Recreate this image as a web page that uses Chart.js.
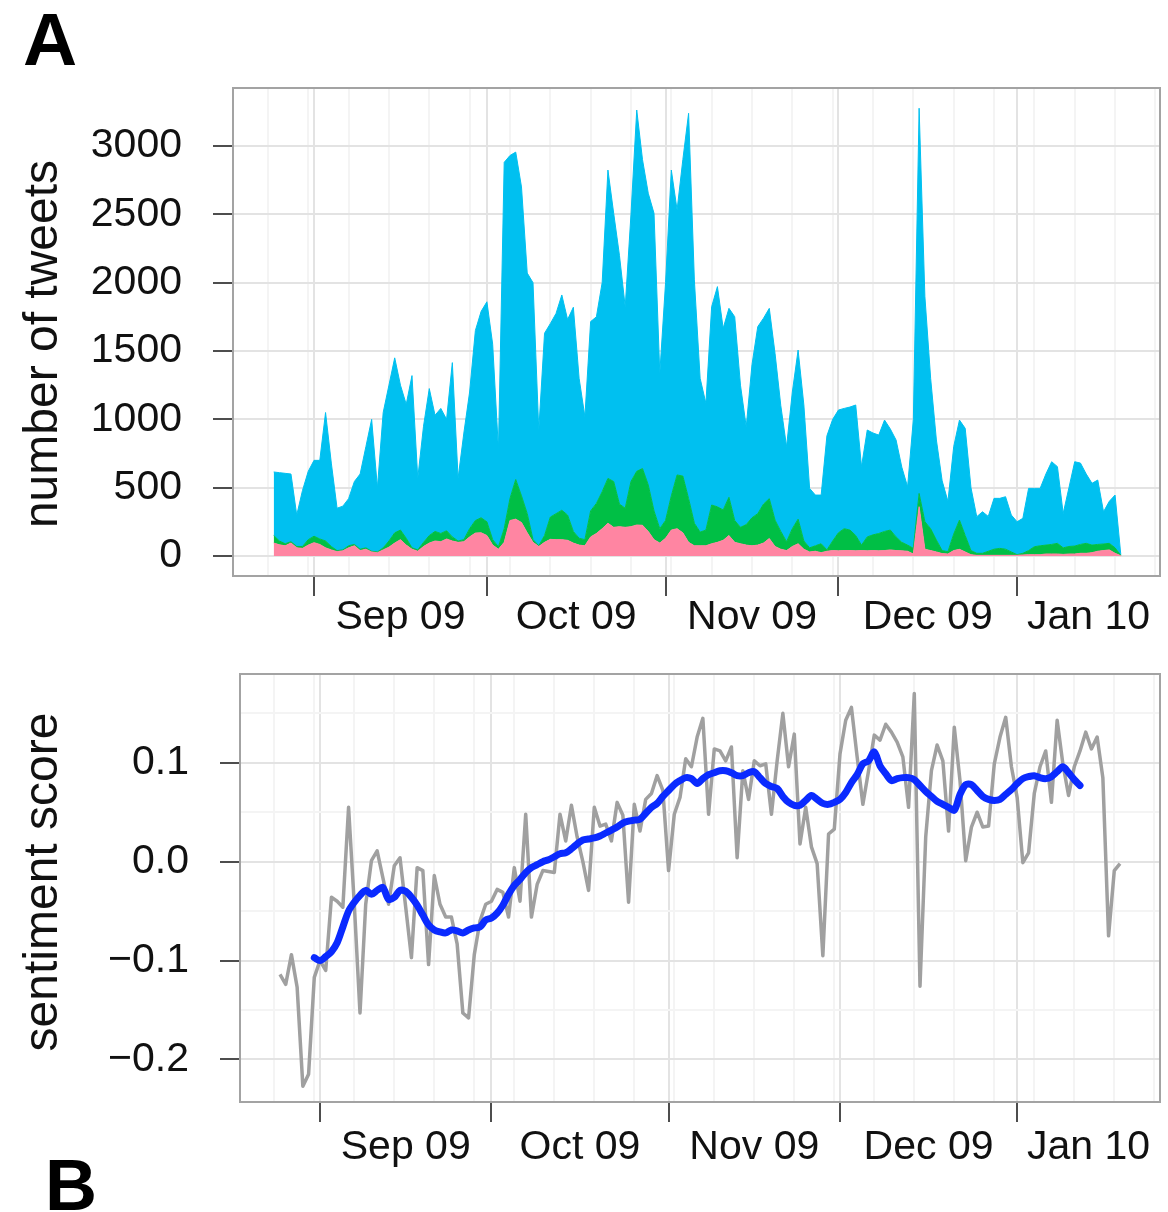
<!DOCTYPE html>
<html>
<head>
<meta charset="utf-8">
<script src="https://cdn.jsdelivr.net/npm/chart.js@4.4.1/dist/chart.umd.min.js"></script>
<style>
  html, body { margin: 0; padding: 0; background: #fff; }
  body { width: 1168px; height: 1212px; position: relative; overflow: hidden; font-family: 'Liberation Sans', Arial, sans-serif; }
  .panel { position: absolute; left: 0; width: 1168px; }
  #panelA { top: 0; height: 650px; }
  #panelB { top: 600px; height: 612px; }
  .tag { position: absolute; font-weight: bold; color: #000; }
</style>
</head>
<body>
<div class="panel" id="panelA"><canvas id="tweets"></canvas></div>
<div class="panel" id="panelB"><canvas id="sentiment"></canvas></div>
<div class="tag" style="left:23px; top:2px; font-size:75px; line-height:75px;">A</div>
<div class="tag" style="left:45px; top:1149px; font-size:72px; line-height:72px;">B</div>
<script>
const FONT = "'Liberation Sans', Arial, sans-serif";
const DAY = 86400000;
const ORIGIN = Date.UTC(2009, 8, 1);
function dayOf(s) {
    const [y, m, d] = s.split('-').map(Number);
    return (Date.UTC(y, m - 1, d) - ORIGIN) / DAY;
}

// daily tweet counts, one value per day from countStart (stacked: pink, green, blue)
const countStart = '2009-08-25';
const pinkTweets = [
    95, 82, 75, 95, 60, 56, 80, 98,
    85, 60, 45, 32, 38, 60, 75, 40, 50, 30,
    24, 45, 65, 95, 120, 80, 50, 35, 70, 95,
    110, 105, 125, 110, 100, 105, 140, 168, 170, 150,
    80, 50, 100, 260, 270, 245, 170, 100, 70, 100,
    122, 120, 120, 115, 95, 80, 75, 140, 165, 200,
    240, 210, 215, 210, 215, 227, 225, 180, 120, 95,
    130, 190, 200, 170, 100, 75, 75, 75, 90, 100,
    115, 150, 100, 90, 80, 75, 80, 95, 128, 70,
    50, 40, 70, 90, 50, 30, 35, 25, 35, 40,
    38, 40, 40, 38, 40, 38, 40, 38, 40, 45,
    40, 38, 35, 15, 361, 50, 40, 30, 18, 15,
    40, 49, 30, 10, 5, 5, 5, 5, 5, 5,
    5, 5, 8, 10, 10, 10, 15, 15, 15, 12,
    15, 15, 20, 20, 25, 35, 40, 45, 20, 2
];
const greenTweets = [
    55, 28, 15, 10, 10, 14, 40, 47,
    40, 50, 25, 8, 7, 15, 10, 10, 10, 5,
    6, 15, 45, 75, 70, 50, 10, 10, 30, 55,
    70, 60, 60, 30, 10, 15, 60, 92, 110, 100,
    40, 18, 100, 160, 290, 195, 140, 20, 5, 50,
    163, 190, 215, 185, 85, 50, 45, 190, 220, 270,
    328, 335, 165, 140, 330, 393, 415, 340, 210, 105,
    130, 250, 393, 415, 320, 165, 100, 115, 283, 260,
    222, 280, 160, 120, 150, 205, 230, 285, 292, 193,
    130, 65, 130, 180, 60, 30, 40, 65, 10, 70,
    132, 160, 150, 112, 40, 102, 115, 127, 140, 145,
    100, 62, 45, 41, 97, 201, 160, 87, 22, 17,
    120, 214, 120, 30, 15, 15, 30, 45, 51, 45,
    25, 5, 12, 30, 58, 65, 65, 70, 78, 48,
    55, 58, 65, 73, 55, 50, 48, 48, 40, 3
];
const blueTweets = [
    465, 500, 515, 495, 230, 410, 500, 555,
    575, 940, 610, 310, 320, 345, 460, 550, 740, 965,
    470, 990, 1140, 1280, 1060, 980, 1260, 525, 850, 1075,
    850, 915, 815, 1275, 460, 780, 1000, 1390, 1510, 1610,
    1430, 712, 2680, 2510, 2395, 2260, 1760, 1880, 845, 1480,
    1415, 1465, 1575, 1430, 1640, 1170, 900, 1385, 1365, 1530,
    2256, 1962, 1820, 1474, 1955, 2643, 2260, 2134, 2177, 1136,
    1740, 2384, 1939, 2315, 2819, 1780, 1125, 927, 1451, 1611,
    1329, 1382, 1491, 1040, 716, 1120, 1368, 1360, 1392, 1220,
    920, 695, 1000, 1237, 995, 435, 371, 356, 835, 890,
    898, 880, 900, 955, 574, 782, 745, 720, 815, 740,
    709, 550, 427, 944, 2818, 1649, 1100, 732, 510, 368,
    640, 732, 784, 460, 268, 304, 255, 372, 366, 384,
    270, 241, 256, 455, 427, 420, 520, 605, 561, 252,
    430, 617, 595, 507, 452, 471, 236, 307, 386, 5
];

// daily sentiment score and its smoothed trend
const sentimentStart = '2009-08-25';
const sentimentDaily = [
    -0.114, -0.124, -0.094, -0.127, -0.227, -0.215, -0.117, -0.100,
    -0.110, -0.036, -0.040, -0.046, 0.055, -0.043, -0.153, -0.043, 0.001, 0.011,
    -0.016, -0.043, -0.004, 0.004, -0.046, -0.097, -0.006, -0.009, -0.104, -0.014,
    -0.043, -0.056, -0.056, -0.083, -0.153, -0.158, -0.094, -0.060, -0.043, -0.040,
    -0.028, -0.031, -0.056, -0.006, -0.040, 0.048, -0.056, -0.023, -0.009, -0.010,
    -0.011, 0.048, 0.021, 0.057, 0.025, 0.000, -0.029, 0.055, 0.036, 0.038,
    0.021, 0.060, 0.047, -0.041, 0.058, 0.031, 0.063, 0.069, 0.087, 0.072,
    -0.009, 0.048, 0.065, 0.104, 0.096, 0.126, 0.145, 0.048, 0.114, 0.112,
    0.102, 0.116, 0.004, 0.092, 0.063, 0.102, 0.097, 0.099, 0.048, 0.102,
    0.150, 0.096, 0.129, 0.018, 0.055, 0.015, -0.002, -0.095, 0.028, 0.033,
    0.109, 0.143, 0.156, 0.106, 0.058, 0.092, 0.128, 0.123, 0.139, 0.131,
    0.121, 0.106, 0.055, 0.170, -0.126, 0.025, 0.092, 0.118, 0.102, 0.031,
    0.136, 0.082, 0.001, 0.035, 0.050, 0.035, 0.036, 0.099, 0.126, 0.146,
    0.096, 0.065, -0.001, 0.009, 0.069, 0.096, 0.112, 0.060, 0.143, 0.099,
    0.067, 0.096, 0.112, 0.131, 0.114, 0.126, 0.085, -0.075, -0.009, -0.002
];
const smoothStart = '2009-08-31';
const sentimentSmooth = [
    -0.097, -0.100,
    -0.096, -0.091, -0.082, -0.066, -0.050, -0.041, -0.034, -0.029, -0.033, -0.029,
    -0.026, -0.038, -0.036, -0.029, -0.030, -0.036, -0.044, -0.054, -0.064, -0.069,
    -0.071, -0.072, -0.069, -0.070, -0.072, -0.069, -0.067, -0.066, -0.059, -0.057,
    -0.052, -0.044, -0.033, -0.024, -0.018, -0.011, -0.006, -0.003, 0.000, 0.002,
    0.005, 0.008, 0.009, 0.013, 0.018, 0.022, 0.023, 0.024, 0.026, 0.029,
    0.032, 0.035, 0.039, 0.041, 0.042, 0.043, 0.049, 0.055, 0.059, 0.066,
    0.072, 0.078, 0.082, 0.085, 0.084, 0.079, 0.084, 0.088, 0.090, 0.092,
    0.092, 0.090, 0.087, 0.087, 0.090, 0.091, 0.085, 0.079, 0.076, 0.074,
    0.066, 0.060, 0.057, 0.057, 0.062, 0.067, 0.063, 0.059, 0.058, 0.060,
    0.063, 0.070, 0.080, 0.088, 0.099, 0.102, 0.111, 0.097, 0.089, 0.082,
    0.084, 0.085, 0.085, 0.083, 0.077, 0.071, 0.066, 0.061, 0.058, 0.055,
    0.052, 0.068, 0.078, 0.078, 0.072, 0.066, 0.063, 0.062, 0.063, 0.068,
    0.073, 0.079, 0.084, 0.086, 0.087, 0.085, 0.084, 0.086, 0.091, 0.096,
    0.090, 0.083, 0.077
];

// axes
const monthStarts = ['2009-09-01', '2009-10-01', '2009-11-01', '2009-12-01', '2010-01-01', '2010-02-01'];
const monthLabels = ['Sep 09', 'Oct 09', 'Nov 09', 'Dec 09', 'Jan 10'];
const firstMonday = '2009-08-24';
const countTickLabels = [0, 500, 1000, 1500, 2000, 2500, 3000];
const sentimentTickLabels = [-0.2, -0.1, 0.0, 0.1];

const MAJOR_GRID = '#e3e3e3';
const MINOR_GRID = '#f4f4f4';
const TICK_MARK = '#4d4d4d';
const NONE = 'rgba(0,0,0,0)';

function series(start, values) {
    const d0 = dayOf(start);
    return values.map((y, i) => ({ x: d0 + i, y: y }));
}

function xScale(min, max, height, pad) {
    const marks = new Map();
    const mark = (v, key, text) => {
        if (v < min || v > max) return;
        const e = marks.get(v) || {};
        e[key] = true;
        if (text) e.text = text;
        marks.set(v, e);
    };
    const starts = monthStarts.map(dayOf);
    starts.forEach(d => mark(d, 'major'));
    for (let d = dayOf(firstMonday); d <= max; d += 7) mark(d, 'minor');
    // month names sit in the middle of the visible part of each month
    monthLabels.forEach((t, i) => mark((starts[i] + Math.min(starts[i + 1], max)) / 2, 'label', t));
    const values = [...marks.keys()].sort((a, b) => a - b);
    const get = c => (c.tick && marks.get(c.tick.value)) || {};
    return {
        type: 'linear', min: min, max: max,
        afterFit: s => { s.height = height; },
        afterBuildTicks: s => { s.ticks = values.map(v => ({ value: v })); },
        grid: {
            color: c => get(c).major ? MAJOR_GRID : get(c).minor ? MINOR_GRID : NONE,
            lineWidth: 2,
            tickColor: c => get(c).major ? TICK_MARK : NONE,
            tickWidth: 2,
            tickLength: 20
        },
        border: { display: false },
        ticks: {
            autoSkip: false, maxRotation: 0, minRotation: 0, padding: pad,
            color: '#111', font: { family: FONT, size: 41, lineHeight: 1 },
            callback: v => (marks.get(v) || {}).text || ''
        }
    };
}

function yScale(min, max, majors, fmt, width) {
    const step = majors[1] - majors[0];
    const ticks = [];
    for (let k = -2; k <= majors.length * 2; k++) {
        const v = Math.round((majors[0] + k * step / 2) * 1000) / 1000;
        if (v >= min && v <= max) ticks.push({ value: v, major: majors.some(m => Math.abs(m - v) < 1e-9) });
    }
    const isMajor = v => { const t = ticks.find(t => t.value === v); return t && t.major; };
    return {
        type: 'linear', min: min, max: max,
        afterFit: s => { s.width = width; },
        afterBuildTicks: s => { s.ticks = ticks.map(t => ({ value: t.value })); },
        grid: {
            color: c => c.tick && isMajor(c.tick.value) ? MAJOR_GRID : MINOR_GRID,
            lineWidth: 2,
            tickColor: c => c.tick && isMajor(c.tick.value) ? TICK_MARK : NONE,
            tickWidth: 2,
            tickLength: 20
        },
        border: { display: false },
        ticks: {
            padding: 31, color: '#111', font: { family: FONT, size: 41, lineHeight: 1 },
            callback: v => isMajor(v) ? fmt(v) : ''
        }
    };
}

const panelBox = {
    id: 'panelBox',
    afterDraw(chart) {
        const { ctx, chartArea: a } = chart;
        ctx.save();
        ctx.strokeStyle = '#a3a3a3';
        ctx.lineWidth = 2;
        ctx.strokeRect(a.left, a.top, a.right - a.left, a.bottom - a.top);
        ctx.restore();
    }
};

// rotated y axis title, placed by its baseline and centre
const axisTitle = {
    id: 'axisTitle',
    afterDraw(chart, args, opts) {
        const ctx = chart.ctx;
        ctx.save();
        ctx.translate(opts.baseline, opts.center);
        ctx.rotate(-Math.PI / 2);
        ctx.font = '48px ' + FONT;
        ctx.fillStyle = '#111';
        ctx.textAlign = 'center';
        ctx.textBaseline = 'alphabetic';
        ctx.fillText(opts.text, 0, 0);
        ctx.restore();
    }
};

// stack the three layers
const greenTop = pinkTweets.map((v, i) => v + greenTweets[i]);
const blueTop = greenTop.map((v, i) => v + blueTweets[i]);

function area(data, color, fill) {
    return {
        data: data, fill: fill, backgroundColor: color, borderColor: color,
        borderWidth: 1, pointRadius: 0, pointHoverRadius: 0, tension: 0
    };
}

new Chart(document.getElementById('tweets'), {
    type: 'line',
    data: {
        datasets: [
            area(series(countStart, pinkTweets), '#ff85a2', 'origin'),
            area(series(countStart, greenTop), '#00bf45', '-1'),
            area(series(countStart, blueTop), '#00c0f0', '-1')
        ]
    },
    options: {
        responsive: true, maintainAspectRatio: false, animation: false,
        layout: { padding: { left: 0, top: 88, right: 8, bottom: 0 } },
        plugins: {
            legend: { display: false }, tooltip: { enabled: false },
            axisTitle: { text: 'number of tweets', baseline: 57, center: 344 }
        },
        scales: {
            x: xScale(-14.06, 146.8, 74, 1),
            y: yScale(-146, 3424, countTickLabels, v => String(v), 233)
        }
    },
    plugins: [panelBox, axisTitle]
});

new Chart(document.getElementById('sentiment'), {
    type: 'line',
    data: {
        datasets: [
            {
                data: series(smoothStart, sentimentSmooth), borderColor: '#0a2aff', borderWidth: 7,
                pointRadius: 0, pointHoverRadius: 0, tension: 0.3, fill: false,
                borderJoinStyle: 'round', borderCapStyle: 'round', order: 0
            },
            {
                data: series(sentimentStart, sentimentDaily), borderColor: '#a0a0a0', borderWidth: 3.5,
                pointRadius: 0, pointHoverRadius: 0, tension: 0, fill: false,
                borderJoinStyle: 'round', order: 1
            }
        ]
    },
    options: {
        responsive: true, maintainAspectRatio: false, animation: false,
        layout: { padding: { left: 0, top: 74, right: 8, bottom: 0 } },
        plugins: {
            legend: { display: false }, tooltip: { enabled: false },
            axisTitle: { text: 'sentiment score', baseline: 57, center: 282 }
        },
        scales: {
            x: xScale(-14.0, 147.0, 110, 5),
            y: yScale(-0.243, 0.1898, sentimentTickLabels, v => v.toFixed(1).replace('-', '\u2212'), 240)
        }
    },
    plugins: [panelBox, axisTitle]
});
</script>
</body>
</html>
